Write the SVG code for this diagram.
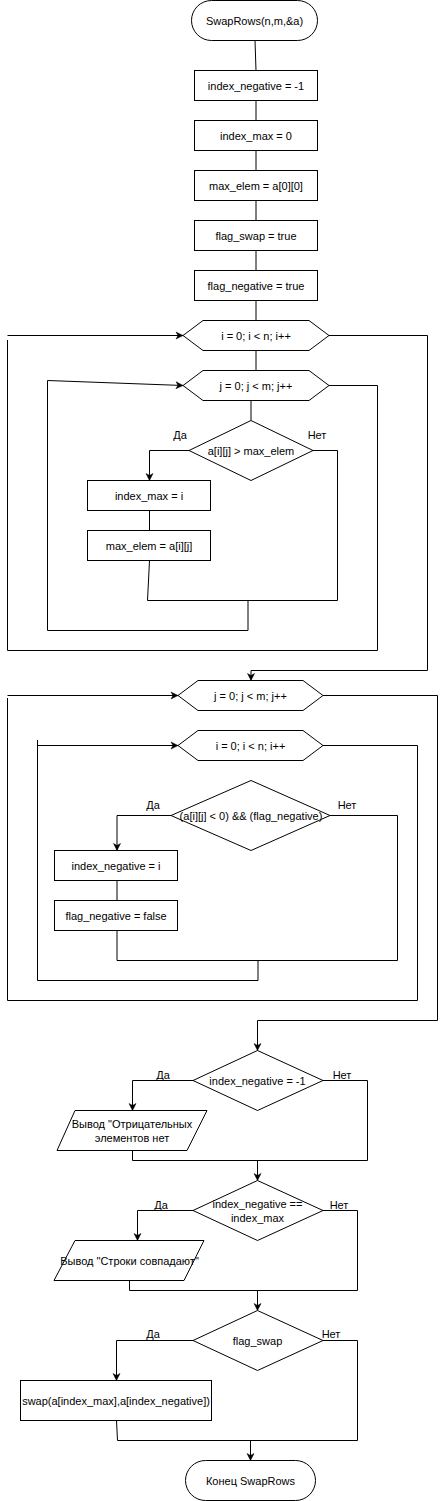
<svg xmlns="http://www.w3.org/2000/svg" width="446" height="1501" viewBox="0 0 446 1501">
<defs>
<marker id="arr" markerUnits="userSpaceOnUse" markerWidth="10" markerHeight="10" refX="7" refY="3.5" orient="auto" overflow="visible">
<path d="M0,0 L7,3.5 L0,7 L2,3.5 Z" fill="#000" stroke="#000" stroke-width="0.5"/>
</marker>
<style>
.s{fill:#fff;stroke:#000;stroke-width:1}
.t{font-family:"Liberation Sans",Arial,sans-serif;font-size:11px;fill:#000;text-anchor:middle;dominant-baseline:central}
.c{fill:none;stroke:#000;stroke-width:1}
.a{marker-end:url(#arr)}
</style>
</defs>
<rect width="446" height="1501" fill="#fff"/>
<g id="connectors">
<path class="c" d="M255,40.5 L256,70.5"/>
<path class="c" d="M256,100.5 V120.5 M256,150.5 V170.5 M256,200.5 V220.5 M256,250.5 V270.5 M256,300.5 V320.5 M256,350.5 V370.5"/>
<path class="c" d="M251,400.5 V420.5"/>
<path class="c a" d="M189,450.5 H149.5 V480.5"/>
<path class="c" d="M149.5,510.5 V530.5"/>
<path class="c" d="M149.5,560.5 L147.5,600.5 H337.5 M313,450.5 H337.5 V600.5"/>
<path class="c a" d="M248,600.5 V630.5 H47.5 V380.5 L183,385.5"/>
<path class="c" d="M329,385.5 H377.5 V650.5 H7.5 V340"/>
<path class="c a" d="M7.5,335.5 H183"/>
<path class="c a" d="M329,335.5 H427.5 V670.5 H251 V680.5"/>
<path class="c a" d="M171,815.5 H117 V850.5"/>
<path class="c" d="M117,880.5 V900.5"/>
<path class="c" d="M117,930.5 V960.5 H397.5 M330,815.5 H397.5 V960.5"/>
<path class="c" d="M258,960.5 V980.5 H37.5 V740"/>
<path class="c a" d="M37.5,745.5 H178"/>
<path class="c" d="M323,745.5 H417.5 V1000.5 H7.5 V698"/>
<path class="c a" d="M7.5,695.5 H178"/>
<path class="c a" d="M323,695.5 H437.5 V1020.5 H257.5 V1050.5"/>
<path class="c a" d="M193,1080.5 H132.5 V1110.5"/>
<path class="c" d="M132.5,1150.5 V1160.5 H367.5 M323,1080.5 H367.5 V1160.5"/>
<path class="c a" d="M257.5,1160.5 V1180.5"/>
<path class="c a" d="M193,1210.5 H137.5 V1240.5"/>
<path class="c" d="M129.5,1280.5 V1290.5 H357.5 M323,1210.5 H357.5 V1290.5"/>
<path class="c a" d="M257.5,1290.5 V1310.5"/>
<path class="c a" d="M193,1340.5 H116.5 V1380.5"/>
<path class="c" d="M116.5,1420.5 L117.5,1440.5 H357.5 M323,1340.5 H357.5 V1440.5"/>
<path class="c a" d="M250.5,1440.5 V1460.5"/>
<text class="t" x="180" y="435">Да</text>
<text class="t" x="317" y="435">Нет</text>
<text class="t" x="153" y="805">Да</text>
<text class="t" x="347" y="805">Нет</text>
<text class="t" x="163" y="1075">Да</text>
<text class="t" x="342" y="1075">Нет</text>
<text class="t" x="161" y="1205">Да</text>
<text class="t" x="339" y="1205">Нет</text>
<text class="t" x="153" y="1334">Да</text>
<text class="t" x="331" y="1334">Нет</text>
</g>
<g id="start"><rect class="s" x="191.5" y="0.5" width="126" height="40" rx="20"/><text class="t" x="254.5" y="20.5">SwapRows(n,m,&amp;a)</text></g>
<g id="init1"><rect class="s" x="194.5" y="70.5" width="123" height="30"/><text class="t" x="256" y="85.5">index_negative = -1</text></g>
<g id="init2"><rect class="s" x="194.5" y="120.5" width="123" height="30"/><text class="t" x="256" y="135.5">index_max = 0</text></g>
<g id="init3"><rect class="s" x="194.5" y="170.5" width="123" height="30"/><text class="t" x="256" y="185.5">max_elem = a[0][0]</text></g>
<g id="init4"><rect class="s" x="194.5" y="220.5" width="123" height="30"/><text class="t" x="256" y="235.5">flag_swap = true</text></g>
<g id="init5"><rect class="s" x="194.5" y="270.5" width="123" height="30"/><text class="t" x="256" y="285.5">flag_negative = true</text></g>
<g id="loop1"><polygon class="s" points="183,335.5 203,320.5 309,320.5 329,335.5 309,350.5 203,350.5"/><text class="t" x="256" y="335.5">i = 0; i &lt; n; i++</text></g>
<g id="loop2"><polygon class="s" points="183,385.5 203,370.5 309,370.5 329,385.5 309,400.5 203,400.5"/><text class="t" x="256" y="385.5">j = 0; j &lt; m; j++</text></g>
<g id="cond1"><polygon class="s" points="251,420.5 313,450.5 251,480.5 189,450.5"/><text class="t" x="251" y="450.5">a[i][j] &gt; max_elem</text></g>
<g id="set1"><rect class="s" x="87.5" y="480.5" width="123" height="30"/><text class="t" x="149" y="495.5">index_max = i</text></g>
<g id="set2"><rect class="s" x="87.5" y="530.5" width="123" height="30"/><text class="t" x="149" y="545.5">max_elem = a[i][j]</text></g>
<g id="loop3"><polygon class="s" points="178,695.5 198,680.5 303,680.5 323,695.5 303,710.5 198,710.5"/><text class="t" x="250.5" y="695.5">j = 0; j &lt; m; j++</text></g>
<g id="loop4"><polygon class="s" points="178,745.5 198,730.5 303,730.5 323,745.5 303,760.5 198,760.5"/><text class="t" x="250.5" y="745.5">i = 0; i &lt; n; i++</text></g>
<g id="cond2"><polygon class="s" points="251,780.5 330,815.5 251,850.5 171,815.5"/><text class="t" x="251" y="815.5">(a[i][j] &lt; 0) &amp;&amp; (flag_negative)</text></g>
<g id="set3"><rect class="s" x="54.5" y="850.5" width="123" height="30"/><text class="t" x="116" y="865.5">index_negative = i</text></g>
<g id="set4"><rect class="s" x="54.5" y="900.5" width="123" height="30"/><text class="t" x="116" y="915.5">flag_negative = false</text></g>
<g id="cond3"><polygon class="s" points="257.5,1050.5 323,1080.5 257.5,1110.5 193,1080.5"/><text class="t" x="257.5" y="1080.5">index_negative = -1</text></g>
<g id="out1"><polygon class="s" points="75,1110.5 207,1110.5 187,1150.5 57,1150.5"/><text class="t" x="132" y="1123.5">Вывод "Отрицательных</text><text class="t" x="132" y="1137.5">элементов нет</text></g>
<g id="cond4"><polygon class="s" points="257.5,1180.5 323,1210.5 257.5,1240.5 193,1210.5"/><text class="t" x="257.5" y="1203.5">index_negative ==</text><text class="t" x="257.5" y="1217.5">index_max</text></g>
<g id="out2"><polygon class="s" points="75,1240.5 204,1240.5 184,1280.5 54,1280.5"/><text class="t" x="129.5" y="1260.5">Вывод "Строки совпадают"</text></g>
<g id="cond5"><polygon class="s" points="257.5,1310.5 323,1340.5 257.5,1370.5 193,1340.5"/><text class="t" x="257.5" y="1340.5">flag_swap</text></g>
<g id="swap"><rect class="s" x="20.5" y="1380.5" width="191" height="40"/><text class="t" x="116" y="1400.5">swap(a[index_max],a[index_negative])</text></g>
<g id="end"><rect class="s" x="185.5" y="1460.5" width="130" height="40" rx="20"/><text class="t" x="250.5" y="1480.5">Конец SwapRows</text></g>
</svg>
